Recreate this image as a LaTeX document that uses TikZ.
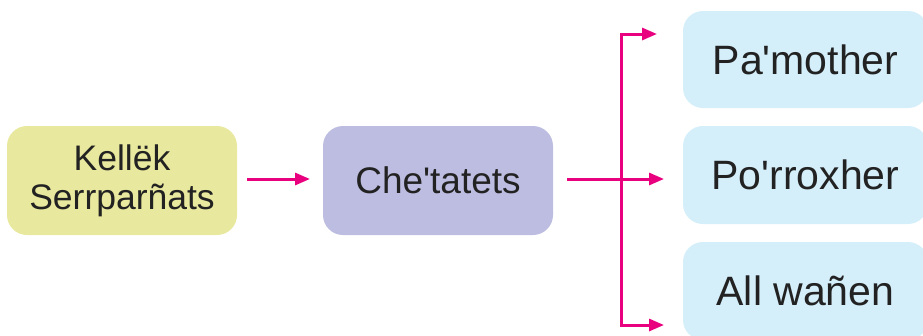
\documentclass[tikz,border=0pt]{standalone}
\usepackage{fontspec}
\setmainfont{Liberation Sans}
\usetikzlibrary{arrows.meta}
\definecolor{boxY}{HTML}{E8E89E}
\definecolor{boxL}{HTML}{BDBDE1}
\definecolor{boxB}{HTML}{D4EEFA}
\definecolor{mag}{HTML}{E8007F}
\definecolor{ink}{HTML}{222222}
\tikzset{
  box/.style={rectangle, rounded corners=20pt, draw=none, text=ink, align=center, inner sep=0pt},
  conn/.style={draw=mag, line width=3pt},
  arr/.style={conn, -{Triangle[length=15pt,width=12pt]}},
}
\begin{document}
\begin{tikzpicture}[x=1pt,y=-1pt]
\clip (0,0) rectangle (923,335);
\useasboundingbox (0,0) rectangle (923,335);
\node[box, fill=boxY, minimum width=230pt, minimum height=109pt, font=\fontsize{35.5}{39}\selectfont] (left) at (122,180.5) {Kellëk\\Serrparñats};
\node[box, fill=boxL, minimum width=230pt, minimum height=109pt, font=\fontsize{37}{40}\selectfont] (mid) at (438,180.5) {Che\textquotesingle tatets};
\node[box, fill=boxB, minimum width=245pt, minimum height=97pt, font=\fontsize{41}{44}\selectfont] (r1) at (805.5,59.5) {Pa\textquotesingle mother};
\node[box, fill=boxB, minimum width=245pt, minimum height=98pt, font=\fontsize{41}{44}\selectfont] (r2) at (805.5,175) {Po\textquotesingle rroxher};
\node[box, fill=boxB, minimum width=245pt, minimum height=98pt, font=\fontsize{41}{44}\selectfont] (r3) at (805.5,291) {All wañen};
\coordinate (a1s) at (247,179);
\coordinate (a1e) at (310,179);
\draw[arr] (a1s) -- (a1e);
\coordinate (bs) at (567,179);
\coordinate (j) at (621,179);
\coordinate (t1) at (657,34);
\coordinate (t2) at (664,179);
\coordinate (t3) at (664,325);
\draw[arr] (bs) -- (t2);
\draw[arr] (j) |- (t1);
\draw[arr] (j) |- (t3);
\end{tikzpicture}
\end{document}
